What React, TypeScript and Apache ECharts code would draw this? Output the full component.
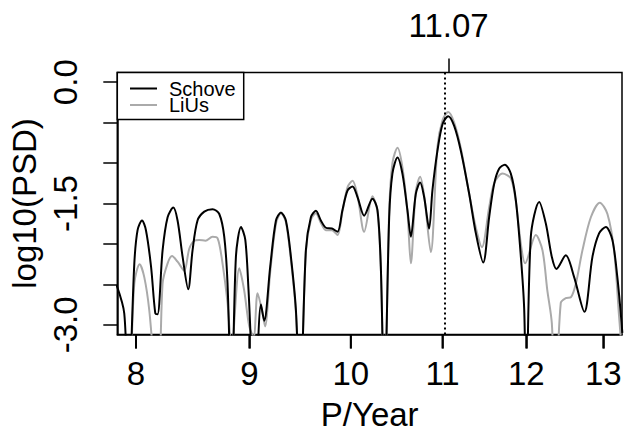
import React, { useEffect, useRef } from "react";
import * as echarts from "echarts";

// Period (years) and log10(PSD) for the Schove series
const schoveP = [7.84, 7.903, 7.936, 7.986, 8.013, 8.05, 8.083, 8.126, 8.162, 8.181, 8.224, 8.267, 8.316, 8.353, 8.397, 8.446, 8.484, 8.528, 8.588, 8.662, 8.723, 8.768, 8.798, 8.835, 8.875, 8.922, 8.962, 8.992, 9.05, 9.109, 9.14, 9.197, 9.252, 9.3, 9.348, 9.397, 9.446, 9.487, 9.544, 9.594, 9.644, 9.694, 9.745, 9.806, 9.863, 9.914, 9.966, 10.018, 10.07, 10.14, 10.228, 10.281, 10.317, 10.355, 10.407, 10.442, 10.497, 10.551, 10.606, 10.644, 10.699, 10.747, 10.792, 10.848, 10.885, 10.942, 11.0, 11.065, 11.134, 11.212, 11.309, 11.388, 11.475, 11.546, 11.606, 11.666, 11.736, 11.809, 11.871, 11.933, 11.974, 12.0, 12.057, 12.162, 12.247, 12.323, 12.382, 12.503, 12.612, 12.747, 12.854, 12.943, 13.034, 13.123, 13.191, 13.238, 13.26];
const schoveV = [-2.51, -2.86, -4.0, -2.24, -1.83, -1.71, -1.83, -2.28, -2.86, -2.87, -2.08, -1.67, -1.55, -1.71, -2.16, -2.56, -2.08, -1.71, -1.6, -1.57, -1.63, -1.91, -2.49, -4.0, -2.16, -1.79, -1.95, -2.57, -4.0, -2.75, -2.95, -2.28, -1.71, -1.61, -1.71, -2.16, -2.82, -4.0, -2.08, -1.67, -1.59, -1.71, -1.8, -1.81, -1.85, -1.58, -1.34, -1.29, -1.42, -1.65, -1.44, -1.58, -2.28, -4.0, -1.67, -1.13, -0.93, -1.13, -1.58, -1.91, -1.38, -1.24, -1.42, -1.81, -1.34, -0.85, -0.52, -0.42, -0.54, -0.85, -1.38, -1.87, -2.23, -1.67, -1.26, -1.07, -1.02, -1.13, -1.46, -2.16, -2.8, -4.0, -1.91, -1.48, -1.75, -2.16, -2.31, -2.14, -2.41, -2.84, -2.16, -1.87, -1.79, -1.95, -2.41, -2.86, -3.1];

// Period (years) and log10(PSD) for the LiUs series
const liusP = [7.84, 7.93, 7.986, 8.03, 8.069, 8.111, 8.186, 8.224, 8.267, 8.305, 8.353, 8.411, 8.455, 8.499, 8.543, 8.599, 8.662, 8.708, 8.748, 8.798, 8.835, 8.906, 8.951, 8.999, 9.04, 9.077, 9.123, 9.148, 9.197, 9.252, 9.3, 9.348, 9.397, 9.446, 9.487, 9.544, 9.594, 9.644, 9.694, 9.745, 9.806, 9.863, 9.914, 9.966, 10.018, 10.07, 10.14, 10.228, 10.281, 10.317, 10.355, 10.407, 10.442, 10.497, 10.551, 10.606, 10.644, 10.699, 10.747, 10.792, 10.867, 10.942, 11.0, 11.065, 11.134, 11.212, 11.309, 11.388, 11.46, 11.546, 11.606, 11.707, 11.809, 11.871, 11.933, 11.986, 12.12, 12.204, 12.265, 12.323, 12.365, 12.438, 12.503, 12.569, 12.635, 12.721, 12.833, 12.953, 13.056, 13.146, 13.215, 13.26];
const liusV = [-3.5, -4.0, -2.49, -2.25, -2.41, -2.82, -4.0, -2.49, -2.24, -2.15, -2.22, -2.33, -2.06, -1.96, -1.95, -1.96, -1.91, -1.93, -2.2, -2.73, -3.3, -2.3, -2.57, -3.02, -3.15, -2.61, -2.85, -3.02, -2.35, -1.75, -1.62, -1.73, -2.2, -2.85, -4.0, -2.1, -1.7, -1.62, -1.74, -1.83, -1.83, -1.89, -1.6, -1.3, -1.22, -1.4, -1.85, -1.41, -1.6, -2.3, -4.0, -1.6, -1.0, -0.81, -1.05, -1.6, -2.24, -1.35, -1.17, -1.4, -2.1, -0.8, -0.47, -0.37, -0.5, -0.82, -1.38, -1.8, -2.04, -1.55, -1.25, -1.13, -1.19, -1.48, -2.0, -2.24, -1.89, -2.08, -2.57, -2.98, -4.0, -2.73, -2.67, -2.66, -2.49, -2.08, -1.67, -1.49, -1.63, -2.08, -2.9, -3.4];

const xTicks = [8, 9, 10, 11, 12, 13];
const yTicks = [-3, -2.5, -2, -1.5, -1, -0.5, 0];
const yLabels = [-3, -1.5, 0];
const peakPeriod = 11.07;

const FONT = "'Liberation Sans', Arial, Helvetica, sans-serif";
// The period axis is logarithmic: positions are taken on ln(P)
const lnP = (p: number) => Math.log(p);
const X_MIN = lnP(7.846);
const X_MAX = lnP(13.255);
const Y_MIN = -3.12;
const Y_MAX = 0.12;
const TICK_LEN = 14;

export default function App() {
  const ref = useRef<HTMLDivElement>(null);

  useEffect(() => {
    if (!ref.current) return;
    const chart = echarts.init(ref.current, null, { renderer: "svg" });
    const tickStyle = { color: "#000", width: 1.5 };
    const lineStyle = { color: "#000", width: 1.5 };
    const xTickPos = xTicks.map(lnP);
    const periodLabel = (v: number) => String(Math.round(Math.exp(v)));
    const option: any = {
      animation: false,
      backgroundColor: "#fff",
      textStyle: { fontFamily: FONT },
      grid: {
        left: 117.3,
        top: 72.5,
        width: 504.7,
        height: 262,
        show: true,
        borderColor: "#000",
        borderWidth: 1.5,
        backgroundColor: "transparent",
        containLabel: false,
        outerBoundsMode: "none",
      },
      legend: {
        data: ["Schove", "LiUs"],
        orient: "vertical",
        left: 117.3,
        top: 72.5,
        icon: "rect",
        itemWidth: 27,
        itemHeight: 2,
        itemGap: -3.5,
        padding: [6, 8, 4.5, 12.7],
        borderColor: "#000",
        borderWidth: 1.5,
        borderRadius: 0,
        backgroundColor: "#fff",
        selectedMode: false,
        textStyle: {
          fontSize: 20,
          color: "#000",
          fontFamily: FONT,
          padding: [0, 0, 0, 7],
        },
      },
      xAxis: [
        {
          type: "value",
          min: X_MIN,
          max: X_MAX,
          position: "bottom",
          name: "P/Year",
          nameLocation: "middle",
          nameGap: 63,
          nameTextStyle: { fontSize: 33, color: "#000", fontFamily: FONT },
          axisLine: { show: true, onZero: false, lineStyle },
          splitLine: { show: false },
          minorTick: { show: false },
          axisTick: { show: true, inside: false, length: TICK_LEN, lineStyle: tickStyle, customValues: xTickPos },
          axisLabel: {
            customValues: xTickPos,
            fontSize: 33,
            color: "#000",
            fontFamily: FONT,
            margin: 22,
            formatter: periodLabel,
          },
        },
        {
          type: "value",
          min: X_MIN,
          max: X_MAX,
          position: "top",
          axisLine: { show: false, onZero: false },
          splitLine: { show: false },
          minorTick: { show: false },
          axisTick: { show: true, inside: false, length: TICK_LEN, lineStyle: tickStyle, customValues: [lnP(peakPeriod)] },
          axisLabel: {
            customValues: [lnP(peakPeriod)],
            fontSize: 33,
            color: "#000",
            fontFamily: FONT,
            margin: 31,
            formatter: () => peakPeriod.toFixed(2),
          },
        },
      ],
      yAxis: {
        type: "value",
        min: Y_MIN,
        max: Y_MAX,
        name: "log10(PSD)",
        nameLocation: "middle",
        nameGap: 67,
        nameRotate: 90,
        nameTextStyle: { fontSize: 33, color: "#000", fontFamily: FONT },
        axisLine: { show: true, onZero: false, lineStyle },
        splitLine: { show: false },
        axisTick: { show: true, inside: false, length: TICK_LEN, lineStyle: tickStyle, customValues: yTicks },
        axisLabel: {
          customValues: yLabels,
          rotate: 90,
          fontSize: 33,
          color: "#000",
          fontFamily: FONT,
          margin: 35,
          formatter: (v: number) => v.toFixed(1),
        },
      },
      series: [
        {
          name: "LiUs",
          type: "line",
          xAxisIndex: 0,
          data: liusP.map((p, i) => [lnP(p), liusV[i]]),
          symbol: "none",
          showSymbol: false,
          smooth: 0.3,
          clip: true,
          lineStyle: { color: "#aaaaaa", width: 2 },
          itemStyle: { color: "#aaaaaa" },
        },
        {
          name: "Schove",
          type: "line",
          xAxisIndex: 0,
          data: schoveP.map((p, i) => [lnP(p), schoveV[i]]),
          symbol: "none",
          showSymbol: false,
          smooth: 0.3,
          clip: true,
          lineStyle: { color: "#000", width: 2 },
          itemStyle: { color: "#000" },
          markLine: {
            silent: true,
            symbol: ["none", "none"],
            label: { show: false },
            lineStyle: { color: "#000", type: [2, 3], width: 2 },
            data: [{ xAxis: lnP(peakPeriod) }],
          },
        },
      ],
    };
    chart.setOption(option);

    // Bottom tick marks, placed through the chart's own x scale
    try {
      const yBottom = Number(chart.convertToPixel({ yAxisIndex: 0 }, Y_MIN));
      const tickGraphics = xTickPos.map((v) => {
        const px = Number(chart.convertToPixel({ xAxisIndex: 0 }, v));
        return {
          type: "line",
          silent: true,
          z: 100,
          shape: { x1: px, y1: yBottom, x2: px, y2: yBottom + TICK_LEN },
          style: { stroke: "#000", lineWidth: 2 },
        };
      });
      chart.setOption({ graphic: { elements: tickGraphics } });
    } catch (e) {
      // ignore
    }

    return () => chart.dispose();
  }, []);

  return (
    <div
      ref={ref}
      style={{ position: "fixed", left: 0, top: 0, width: 625, height: 432 }}
    />
  );
}
